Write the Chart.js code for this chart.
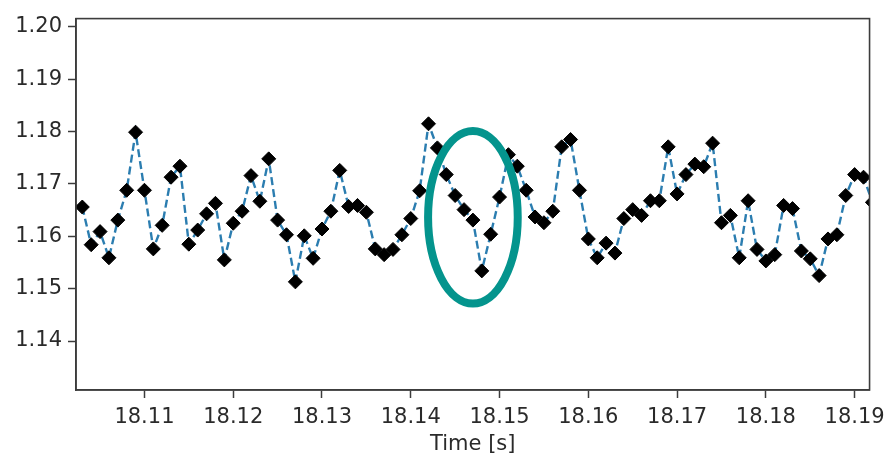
<!DOCTYPE html>
<html>
<head>
<meta charset="utf-8">
<script src="https://cdn.jsdelivr.net/npm/chart.js@4.4.1/dist/chart.umd.min.js"></script>
<style>
  html, body { margin: 0; padding: 0; background: #ffffff; }
  #wrap { width: 892px; height: 459px; }
</style>
</head>
<body>
<div id="wrap"><canvas id="c" width="892" height="459"></canvas></div>
<script>
// ---- data ----
const times = [
  18.103, 18.104, 18.105, 18.106, 18.107, 18.108, 18.109, 18.110, 18.111, 18.112,
  18.113, 18.114, 18.115, 18.116, 18.117, 18.118, 18.119, 18.120, 18.121, 18.122,
  18.123, 18.124, 18.125, 18.126, 18.127, 18.128, 18.129, 18.130, 18.131, 18.132,
  18.133, 18.134, 18.135, 18.136, 18.137, 18.138, 18.139, 18.140, 18.141, 18.142,
  18.143, 18.144, 18.145, 18.146, 18.147, 18.148, 18.149, 18.150, 18.151, 18.152,
  18.153, 18.154, 18.155, 18.156, 18.157, 18.158, 18.159, 18.160, 18.161, 18.162,
  18.163, 18.164, 18.165, 18.166, 18.167, 18.168, 18.169, 18.170, 18.171, 18.172,
  18.173, 18.174, 18.175, 18.176, 18.177, 18.178, 18.179, 18.180, 18.181, 18.182,
  18.183, 18.184, 18.185, 18.186, 18.187, 18.188, 18.189, 18.190, 18.191, 18.192
];
const values = [
  1.1656, 1.1584, 1.1609, 1.1559, 1.1631, 1.1688, 1.1799, 1.1688, 1.1576, 1.1621,
  1.1713, 1.1734, 1.1585, 1.1612, 1.1643, 1.1663, 1.1555, 1.1625, 1.1648, 1.1716,
  1.1667, 1.1748, 1.1631, 1.1603, 1.1513, 1.1601, 1.1558, 1.1614, 1.1648, 1.1726,
  1.1657, 1.1659, 1.1646, 1.1576, 1.1565, 1.1575, 1.1603, 1.1634, 1.1687, 1.1815,
  1.1769, 1.1718, 1.1678, 1.1651, 1.1631, 1.1534, 1.1604, 1.1675, 1.1756, 1.1734,
  1.1688, 1.1637, 1.1626, 1.1648, 1.1771, 1.1785, 1.1688, 1.1595, 1.1559, 1.1587,
  1.1568, 1.1634, 1.1651, 1.1640, 1.1668, 1.1668, 1.1771, 1.1681, 1.1718, 1.1738,
  1.1733, 1.1778, 1.1626, 1.1640, 1.1559, 1.1668, 1.1575, 1.1553, 1.1565, 1.1659,
  1.1653, 1.1572, 1.1557, 1.1525, 1.1595, 1.1603, 1.1678, 1.1718, 1.1713, 1.1665
];
const xTickValues = [18.11, 18.12, 18.13, 18.14, 18.15, 18.16, 18.17, 18.18, 18.19];
const yTickValues = [1.14, 1.15, 1.16, 1.17, 1.18, 1.19, 1.20];
const xRange = [18.10229, 18.19168];
const yRange = [1.13064, 1.2016];
// highlighted region (ellipse) in data units: centre time, centre value, half-width, half-height
const highlight = { t: 18.14700, v: 1.16363, dt: 0.00505, dv: 0.01648 };

const points = times.map((t, i) => ({ x: t, y: values[i] }));

const TEXT = '#2a2a2a';
const AXIS = '#3c3c3c';
const FONT = 'DejaVu Sans';

const frame = {
  id: 'frame',
  afterDatasetsDraw(chart) {
    const { ctx, scales } = chart;
    const cx = scales.x.getPixelForValue(highlight.t);
    const cy = scales.y.getPixelForValue(highlight.v);
    const rx = Math.abs(scales.x.getPixelForValue(highlight.t + highlight.dt) - cx);
    const ry = Math.abs(scales.y.getPixelForValue(highlight.v + highlight.dv) - cy);
    ctx.save();
    ctx.beginPath();
    ctx.ellipse(cx, cy, rx, ry, 0, 0, Math.PI * 2);
    ctx.lineWidth = 8;
    ctx.strokeStyle = '#04948d';
    ctx.stroke();
    ctx.restore();
  },
  afterDraw(chart) {
    const { ctx, chartArea: a } = chart;
    ctx.save();
    ctx.strokeStyle = AXIS;
    ctx.lineWidth = 1.6;
    ctx.strokeRect(a.left, a.top, a.right - a.left, a.bottom - a.top);
    ctx.restore();
  }
};

new Chart(document.getElementById('c'), {
  type: 'scatter',
  data: {
    datasets: [{
      data: points,
      showLine: true,
      borderColor: '#2b7db0',
      borderWidth: 2.4,
      borderDash: [8, 4],
      pointStyle: 'rectRot',
      pointRadius: 7,
      pointHoverRadius: 7,
      pointBackgroundColor: '#000000',
      pointBorderColor: '#000000',
      pointBorderWidth: 1,
      tension: 0
    }]
  },
  options: {
    responsive: false,
    animation: false,
    events: [],
    layout: { padding: { top: 11, right: 16, left: 0, bottom: 0 } },
    plugins: {
      legend: { display: false },
      tooltip: { enabled: false }
    },
    scales: {
      x: {
        type: 'linear',
        min: xRange[0],
        max: xRange[1],
        afterBuildTicks: (axis) => { axis.ticks = xTickValues.map(v => ({ value: v })); },
        afterFit: (axis) => { axis.height = 69; },
        ticks: {
          autoSkip: false,
          maxRotation: 0,
          padding: 7,
          color: TEXT,
          font: { family: FONT, size: 21 },
          callback: (v) => Number(v).toFixed(2)
        },
        grid: { drawOnChartArea: false, drawTicks: true, tickLength: 8, tickColor: AXIS, tickWidth: 1.5 },
        border: { display: true, color: AXIS, width: 1.6 },
        title: {
          display: true,
          text: 'Time [s]',
          color: TEXT,
          font: { family: FONT, size: 21 },
          padding: { top: 2, bottom: 2 }
        }
      },
      y: {
        type: 'linear',
        min: yRange[0],
        max: yRange[1],
        afterBuildTicks: (axis) => { axis.ticks = yTickValues.map(v => ({ value: v })); },
        afterFit: (axis) => { axis.width = 76; },
        ticks: {
          autoSkip: false,
          padding: 6,
          color: TEXT,
          font: { family: FONT, size: 21 },
          callback: (v) => Number(v).toFixed(2)
        },
        grid: { drawOnChartArea: false, drawTicks: true, tickLength: 8, tickColor: AXIS, tickWidth: 1.5 },
        border: { display: true, color: AXIS, width: 1.6 }
      }
    }
  },
  plugins: [frame]
});
</script>
</body>
</html>
